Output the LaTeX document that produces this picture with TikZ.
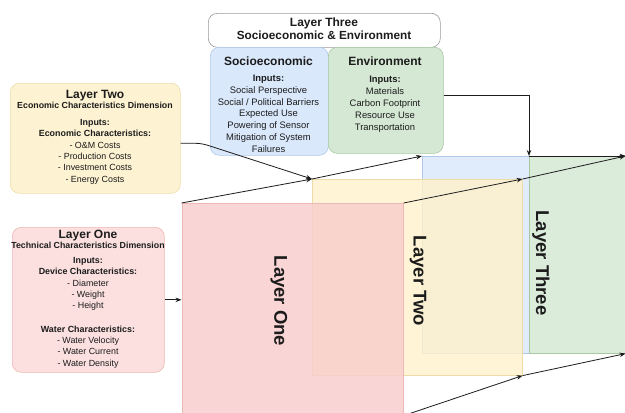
\documentclass[tikz,border=0pt]{standalone}
\usepackage{fontspec}
\setmainfont{Liberation Sans}
\usetikzlibrary{arrows.meta,calc}
\definecolor{pinkF}{HTML}{F8CECC}
\definecolor{pinkL}{HTML}{EDB8B6}
\definecolor{pinkBox}{HTML}{FBE0DF}
\definecolor{yelF}{HTML}{FFF2CC}
\definecolor{yelL}{HTML}{EEDCA8}
\definecolor{yelBox}{HTML}{FDF2D2}
\definecolor{bluF}{HTML}{DAE8FC}
\definecolor{bluL}{HTML}{AFC8EA}
\definecolor{greF}{HTML}{D5E8D4}
\definecolor{greL}{HTML}{A6C9A1}
\definecolor{hdrL}{HTML}{9A9A9A}
\definecolor{inkC}{HTML}{1C1C1C}
\newcommand{\myBody}{\fontsize{9.4}{11.7}\selectfont}
\newcommand{\myBodyS}{\fontsize{8.9}{11.3}\selectfont}
\newcommand{\myHead}{\fontsize{12}{14}\selectfont\bfseries}
\newcommand{\myDim}{\fontsize{8.8}{11}\selectfont\bfseries}
\newcommand{\myBig}{\fontsize{18.5}{22}\selectfont\bfseries}
\begin{document}
\begin{tikzpicture}[x=1pt,y=-1pt,
  layerrect/.style={draw, line width=0.6pt, fill opacity=0.82, anchor=north west, inner sep=0pt},
  infobox/.style={draw, line width=0.6pt, rounded corners=9pt, anchor=north west, inner sep=0pt},
  txt/.style={text=inkC, align=center, inner sep=0pt, anchor=north},
  bigtxt/.style={text=inkC, font=\myBig, rotate=-90, inner sep=0pt},
  conn/.style={draw=inkC, line width=0.8pt, -{Stealth[length=6pt,width=4.5pt]}}]
\useasboundingbox (0,0) rectangle (625,413);
\clip (0,0) rectangle (625,413);
\fill[white] (0,0) rectangle (625,413);

% big layer rectangles
\node[layerrect, draw=bluL, fill=bluF, minimum width=107, minimum height=197] (blue) at (422,156) {};
\node[layerrect, draw=greL, fill=greF, minimum width=97, minimum height=197] (green) at (529,156) {};
\node[layerrect, draw=yelL, fill=yelF, minimum width=210, minimum height=196] (yellow) at (312,179) {};
\node[layerrect, draw=pinkL, fill=pinkF, minimum width=221.5, minimum height=212] (pink) at (181.5,203) {};

\node[bigtxt] (t1) at (279,301) {Layer One};
\node[bigtxt] (t2) at (418,281) {Layer Two};
\node[bigtxt] (t3) at (541,263) {Layer Three};

% top boxes
\node[infobox, draw=hdrL, fill=white, minimum width=232, minimum height=34] (hdr) at (208,13) {};
\node[txt, font=\myHead, text=inkC] (hdrt) at (324,18) {Layer Three\\[-1.5pt]{\fontsize{11.8}{14}\selectfont Socioeconomic \& Environment}};

\node[infobox, draw=bluL, fill=bluF, minimum width=118, minimum height=108] (soc) at (210,47) {};
\node[txt, font=\myBody] (soct) at (268.5,57) {{\myHead Socioeconomic}\\[4.3pt]\textbf{Inputs:}\\Social Perspective\\Social / Political Barriers\\Expected Use\\Powering of Sensor\\Mitigation of System\\Failures};

\node[infobox, draw=greL, fill=greF, minimum width=115, minimum height=106] (env) at (328,47) {};
\node[txt, font=\myBody] (envt) at (385,57) {{\myHead Environment}\\[5.3pt]\textbf{Inputs:}\\[0.3pt]Materials\\[0.3pt]Carbon Footprint\\[0.3pt]Resource Use\\[0.3pt]Transportation};

\node[infobox, draw=yelL, fill=yelBox, minimum width=170, minimum height=110] (l2box) at (10,83) {};
\node[txt, font=\myBodyS] (l2t) at (95,90) {{\myHead Layer Two}\\[-1pt]{\myDim Economic Characteristics Dimension}\\[5.5pt]\textbf{Inputs:}\\\textbf{Economic Characteristics:}\\- O\&M Costs\\- Production Costs\\- Investment Costs\\- Energy Costs};

\node[infobox, draw=pinkL, fill=pinkBox, minimum width=152, minimum height=145] (l1box) at (12,227) {};
\node[txt, font=\myBodyS] (l1t) at (88,230) {{\myHead Layer One}\\[-1pt]{\myDim Technical Characteristics Dimension}\\[3.5pt]\textbf{Inputs:}\\\textbf{Device Characteristics:}\\- Diameter\\- Weight\\- Height\\[12pt]\textbf{Water Characteristics:}\\- Water Velocity\\- Water Current\\- Water Density};

% connectors
\draw[conn] (l1box.east) -- (l1box.east -| pink.west);
\draw[conn, rounded corners=6pt] ([yshift=-5pt]l2box.east) -- ++(21,0) -- (yellow.north west);
\draw[conn] ([yshift=5pt]env.east) -| (green.north west);

\draw[conn] (pink.north west) -- (yellow.north west);
\draw[conn] (yellow.north west) -- (blue.north west);
\draw[conn] (pink.north east) -- (yellow.north east);
\draw[conn] (yellow.north east) -- ([xshift=-1pt]green.north east);
\draw[conn] (pink.south east) -- (yellow.south east);
\draw[conn] (yellow.south east) -- ([xshift=-1pt]green.south east);
\draw[conn] (green.north west) -- ([xshift=-1pt]green.north east);
\end{tikzpicture}
\end{document}
